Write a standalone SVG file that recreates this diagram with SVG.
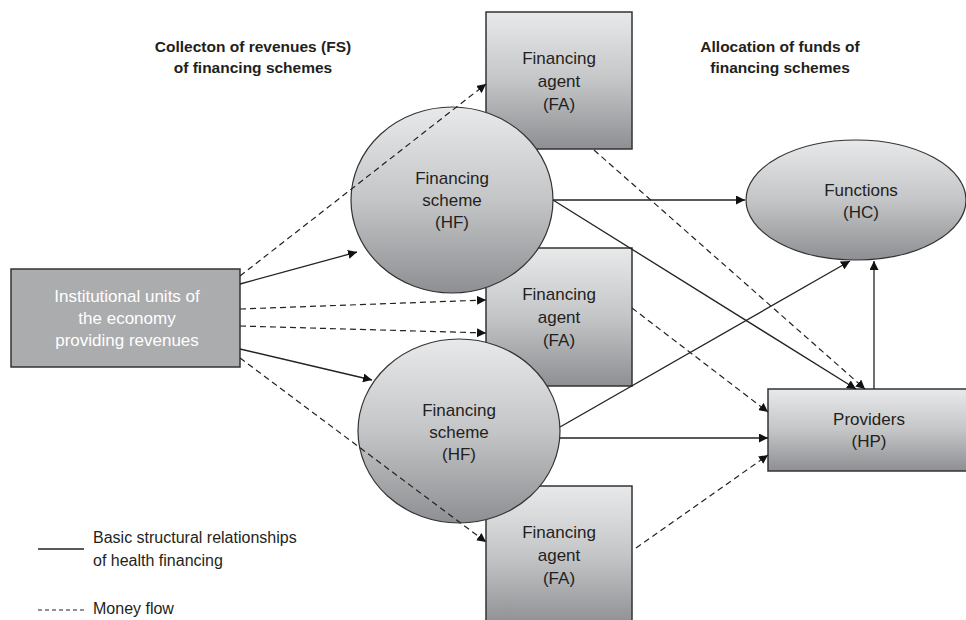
<svg xmlns="http://www.w3.org/2000/svg" width="966" height="620" viewBox="0 0 966 620">
<style>
text{font-family:"Liberation Sans Narrow","Arial Narrow","Liberation Sans",sans-serif;fill:#231f20}
.h{font-weight:bold;font-size:15.5px;text-anchor:middle}
.n{font-size:17px;text-anchor:middle}
.w{font-size:17px;text-anchor:middle;fill:#ffffff}
.l{font-size:16px}
.box{fill:url(#g);stroke:#333;stroke-width:1.5}
.el{fill:url(#g);stroke:#333;stroke-width:1.2}
.s{stroke:#222;stroke-width:1.3;fill:none;marker-end:url(#a)}
.d{stroke:#222;stroke-width:1.2;fill:none;stroke-dasharray:6 4;marker-end:url(#a)}
</style>
<defs>
<linearGradient id="g" x1="0" y1="0" x2="0" y2="1">
<stop offset="0" stop-color="#e8e9ea"/>
<stop offset="0.5" stop-color="#c4c5c7"/>
<stop offset="1" stop-color="#8e8f92"/>
</linearGradient>
<marker id="a" viewBox="0 0 10 10" refX="10" refY="5" markerWidth="9" markerHeight="9" markerUnits="userSpaceOnUse" orient="auto">
<path d="M0,0 L10,5 L0,10 z" fill="#111"/>
</marker>
</defs>
<text class="h" x="253" y="52">Collecton of revenues (FS)</text>
<text class="h" x="253" y="73">of financing schemes</text>
<text class="h" x="780" y="52">Allocation of funds of</text>
<text class="h" x="780" y="73">financing schemes</text>

<g id="fa1"><rect class="box" x="486" y="12" width="146" height="137"/>
<text class="n" x="559" y="64">Financing</text><text class="n" x="559" y="87">agent</text><text class="n" x="559" y="110">(FA)</text></g>
<g id="fa2"><rect class="box" x="486" y="248" width="146" height="138"/>
<text class="n" x="559" y="300">Financing</text><text class="n" x="559" y="323">agent</text><text class="n" x="559" y="346">(FA)</text></g>
<g id="fa3"><rect class="box" x="486" y="486" width="146" height="140"/>
<text class="n" x="559" y="538">Financing</text><text class="n" x="559" y="561">agent</text><text class="n" x="559" y="584">(FA)</text></g>
<g id="inst"><rect x="11" y="269" width="229" height="98" fill="#abacae" stroke="#333" stroke-width="1.5"/>
<text class="w" x="127" y="302">Institutional units of</text><text class="w" x="127" y="324">the economy</text><text class="w" x="127" y="346">providing revenues</text></g>
<g id="hf1"><ellipse class="el" cx="452" cy="200" rx="101" ry="93"/>
<text class="n" x="452" y="184">Financing</text><text class="n" x="452" y="206">scheme</text><text class="n" x="452" y="228">(HF)</text></g>
<g id="hf2"><ellipse class="el" cx="459" cy="431" rx="101" ry="92"/>
<text class="n" x="459" y="416">Financing</text><text class="n" x="459" y="438">scheme</text><text class="n" x="459" y="460">(HF)</text></g>
<g id="hc"><ellipse class="el" cx="856" cy="200" rx="110" ry="60"/>
<text class="n" x="861" y="196">Functions</text><text class="n" x="861" y="218">(HC)</text></g>
<g id="hp"><rect class="box" x="768" y="389" width="210" height="82"/>
<text class="n" x="869" y="425">Providers</text><text class="n" x="869" y="447">(HP)</text></g>

<g id="connectors">
<path class="s" d="M240,284 L357,252"/>
<path class="s" d="M240,349 L372,380"/>
<path class="s" d="M553,200 L745,200"/>
<path class="s" d="M553,200 L856,389"/>
<path class="s" d="M560,427 L850,261"/>
<path class="s" d="M560,438 L768,438"/>
<path class="s" d="M874,389 L874,261"/>
<path class="d" d="M240,276 L486,84"/>
<path class="d" d="M240,309 L486,300"/>
<path class="d" d="M240,326 L486,333"/>
<path class="d" d="M240,358 L486,542"/>
<path class="d" d="M594,150 L865,389"/>
<path class="d" d="M632,308 L768,412"/>
<path class="d" d="M636,548 L768,455"/>
</g>
<g id="legend">
<line x1="38" y1="549" x2="84" y2="549" stroke="#222" stroke-width="1.3"/>
<line x1="38" y1="610" x2="84" y2="610" stroke="#222" stroke-width="1.2" stroke-dasharray="4 3"/>
<text class="l" x="93" y="543">Basic structural relationships</text>
<text class="l" x="93" y="566">of health financing</text>
<text class="l" x="93" y="614">Money flow</text>
</g>
</svg>
